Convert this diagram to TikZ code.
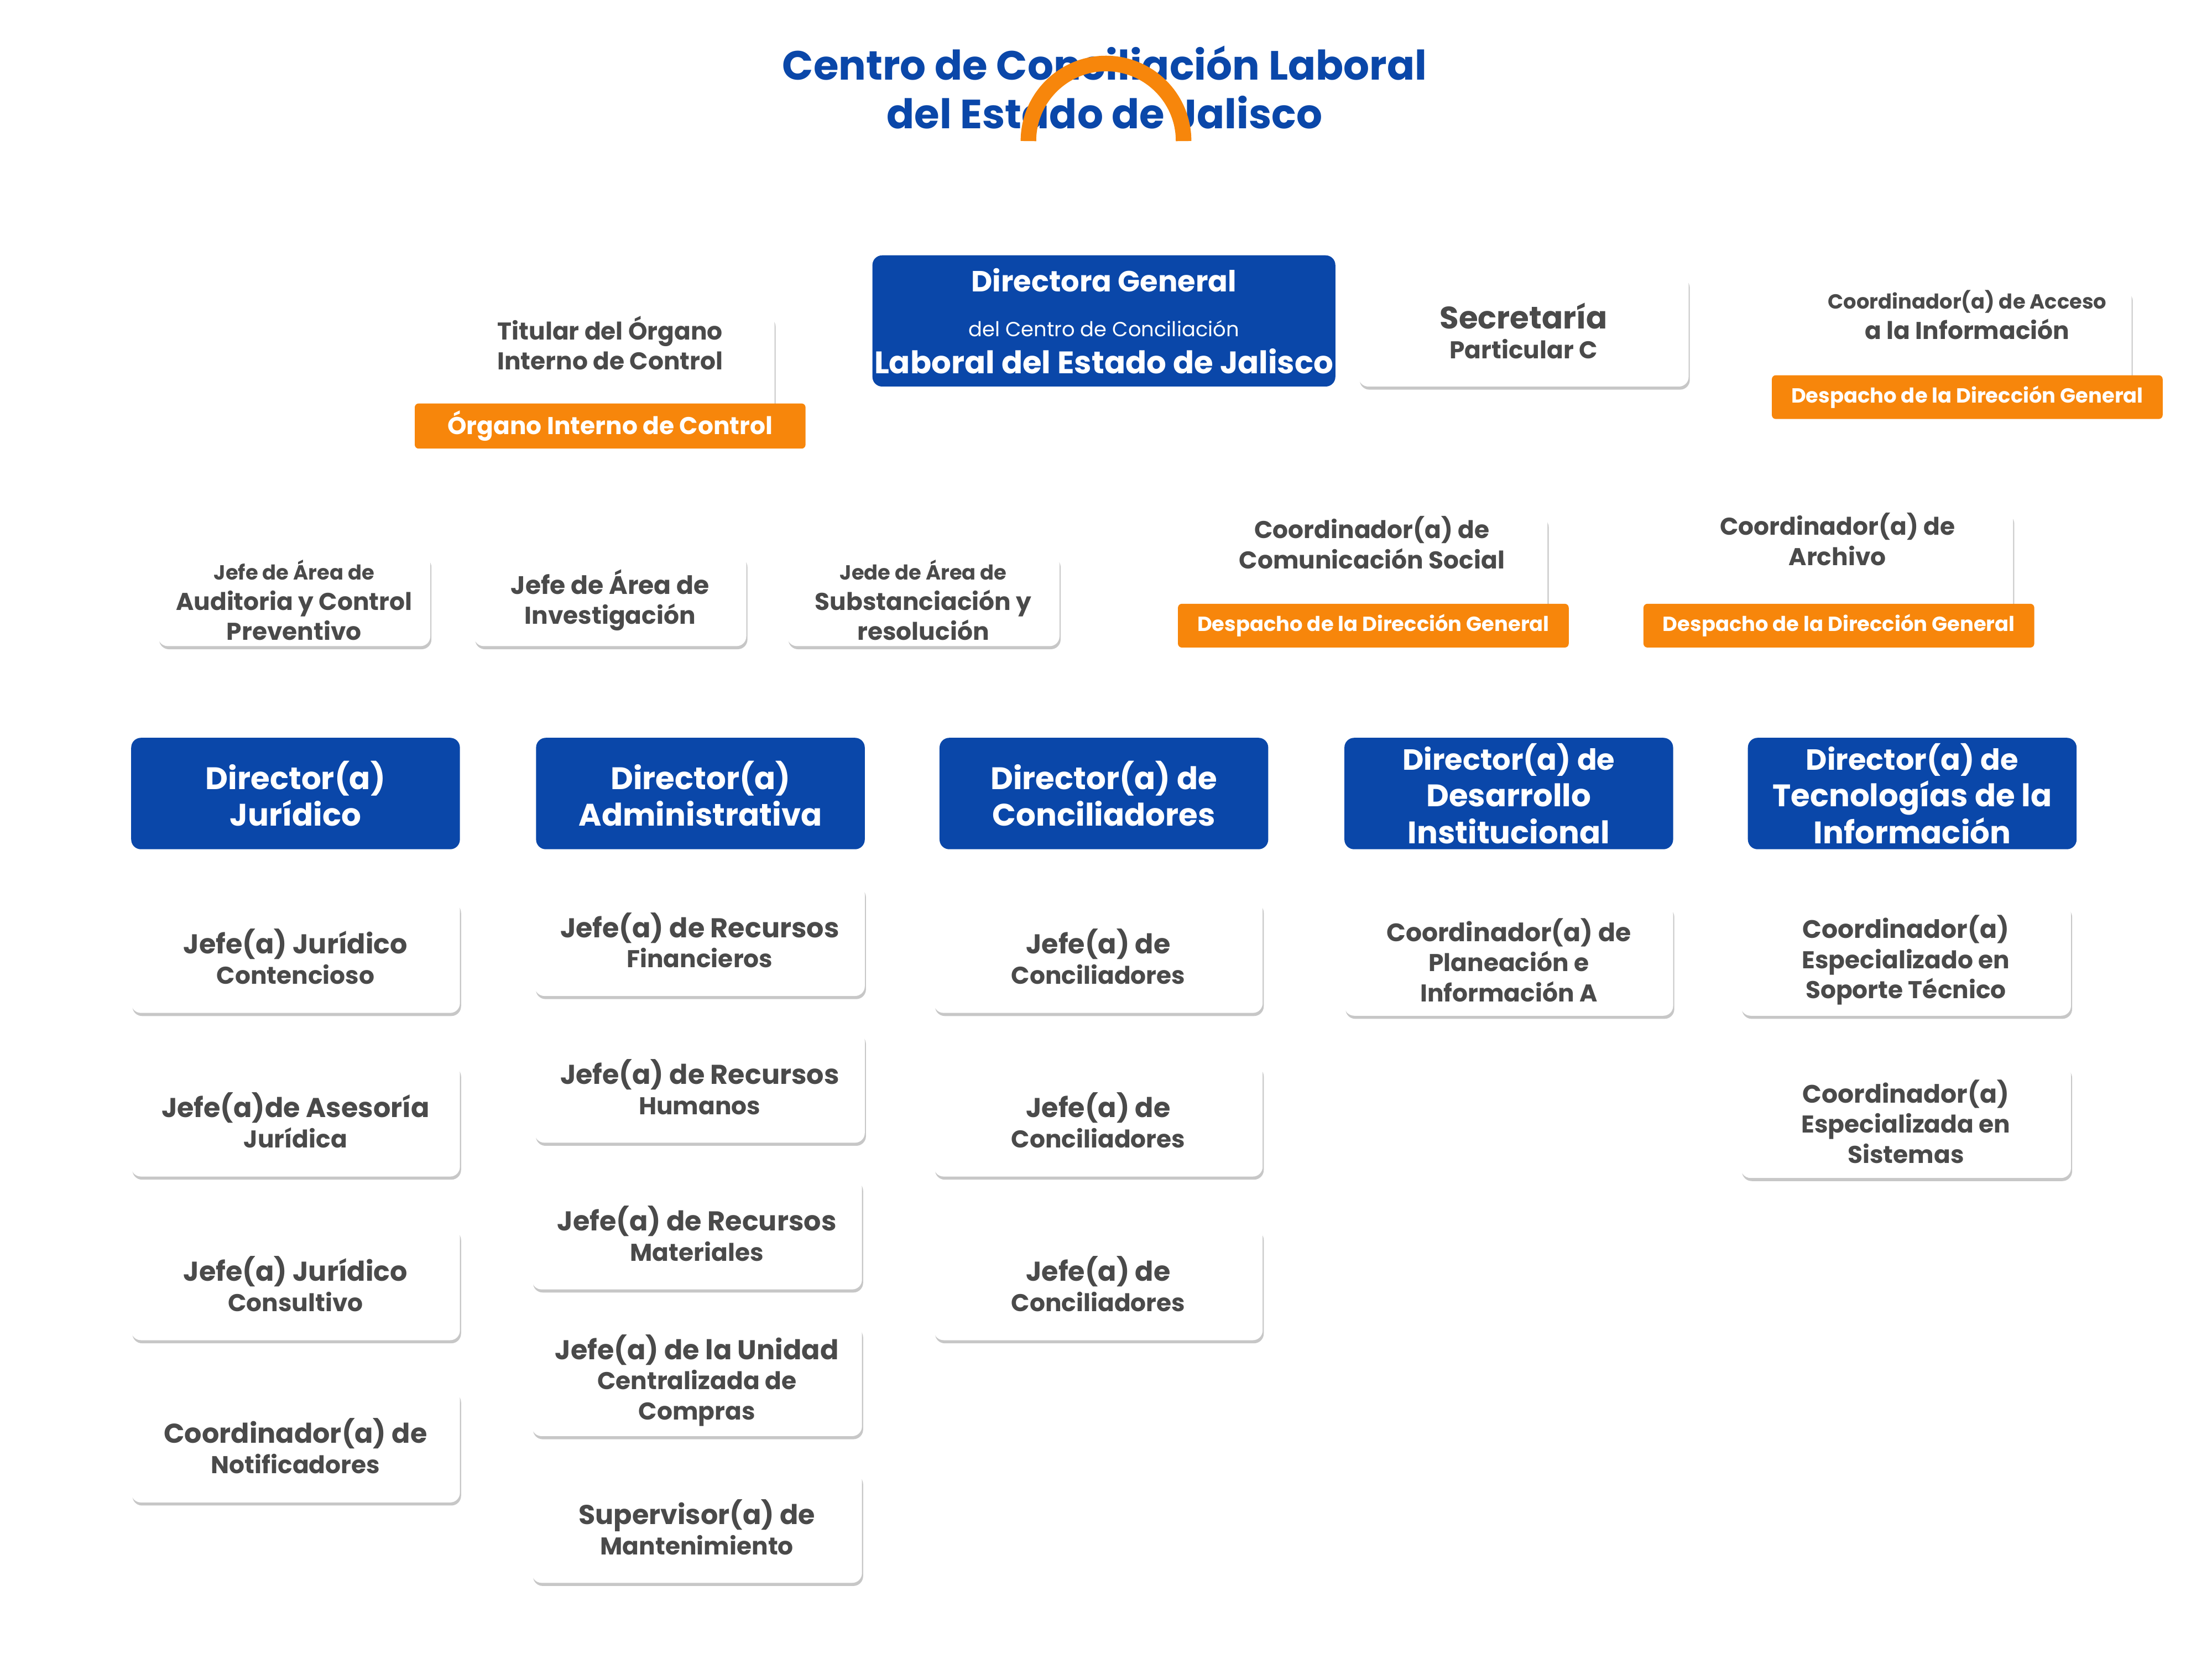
\documentclass[tikz,border=0pt]{standalone}
\usepackage{fontspec}
\setmainfont{Poppins}
\usetikzlibrary{shadows,backgrounds}
\definecolor{cb}{HTML}{0A47A9}
\definecolor{co}{HTML}{F7860B}
\definecolor{ct}{HTML}{4A4A4A}
\definecolor{cl}{HTML}{555B66}
\tikzset{
 box/.style={fill=white,rounded corners=5pt,inner sep=1pt,align=center,text=ct,
   drop shadow={shadow xshift=0.6pt,shadow yshift=-1.6pt,opacity=0.22,fill=black},
   font=\fontsize{12.5}{15.5}\selectfont\bfseries},
 dir/.style={fill=cb,rounded corners=5pt,inner sep=1pt,align=center,text=white,
   font=\fontsize{16}{19}\selectfont\bfseries},
 tag/.style={fill=co,rounded corners=2pt,inner sep=1pt,align=center,text=white,
   font=\fontsize{10.5}{12}\selectfont\bfseries},
 ln/.style={draw=cl,line width=1.2pt,rounded corners=8pt}
}
\newcommand\bx[7][box]{\node[#1,minimum width={(#5-#3)*0.0255cm},minimum height={(#6-#4)*0.0255cm}] (#2) at ({(#3+#5)/2},{(#4+#6)/2}) {#7};}
\begin{document}
\begin{tikzpicture}[x=0.0255cm,y=-0.0255cm]
\useasboundingbox[fill=white] (0,0) rectangle (1568,1176);
\node[text=cb,align=center,font=\fontsize{21}{25}\selectfont\bfseries] (title) at (783,62) {Centro de Conciliación Laboral\\del Estado de Jalisco};
\draw[co,line width=8pt] (729,100) arc[start angle=180,end angle=360,radius=55];
% top
\bx[dir]{dg}{666}{181}{899}{274}{\fontsize{15}{18}\selectfont Directora General\\[4pt]\fontsize{10.5}{14}\selectfont\mdseries del Centro de Conciliación\\Laboral del Estado de Jalisco}
\bx{sp}{963}{195}{1197}{274}{\fontsize{16}{22}\selectfont Secretaría\\Particular C}
\bx{ca}{1278}{208}{1511}{272}{\fontsize{10.5}{15}\selectfont Coordinador(a) de Acceso\\a la Información\\[9pt]}
\bx[tag]{cat}{1256}{266}{1533}{297}{Despacho de la Dirección General}
\bx{oic}{316}{228}{549}{292}{\fontsize{12.5}{15.5}\selectfont Titular del Órgano\\Interno de Control\\[9pt]}
\bx[tag]{oict}{294}{286}{571}{318}{\fontsize{12.5}{14}\selectfont Órgano Interno de Control}
\bx{a1}{112}{393}{305}{458}{\fontsize{10.5}{13}\selectfont Jefe de Área de\\Auditoria y Control\\Preventivo}
\bx{a2}{336}{393}{529}{458}{\fontsize{13}{19}\selectfont Jefe de Área de\\Investigación}
\bx{a3}{558}{393}{751}{458}{\fontsize{10.5}{13}\selectfont Jede de Área de\\Substanciación y\\resolución}
\bx{cs}{848}{371}{1097}{432}{Coordinador(a) de\\Comunicación Social\\[9pt]}
\bx[tag]{cst}{835}{428}{1112}{459}{Despacho de la Dirección General}
\bx{ar}{1178}{366}{1427}{432}{Coordinador(a) de\\Archivo\\[9pt]}
\bx[tag]{art}{1165}{428}{1442}{459}{Despacho de la Dirección General}
% directors
\bx[dir]{d1}{93}{523}{326}{602}{Director(a)\\Jurídico}
\bx[dir]{d2}{380}{523}{613}{602}{Director(a)\\Administrativa}
\bx[dir]{d3}{666}{523}{899}{602}{Director(a) de\\Conciliadores}
\bx[dir]{d4}{953}{523}{1186}{602}{\fontsize{15}{18}\selectfont Director(a) de\\Desarrollo\\Institucional}
\bx[dir]{d5}{1239}{523}{1472}{602}{\fontsize{15}{18}\selectfont Director(a) de\\Tecnologías de la\\Información}
% col 1
\bx{c11}{93}{638}{326}{718}{\fontsize{14}{17}\selectfont Jefe(a) Jurídico\\Contencioso}
\bx{c12}{93}{754}{326}{834}{\fontsize{14}{17}\selectfont Jefe(a)de Asesoría\\Jurídica}
\bx{c13}{93}{870}{326}{950}{\fontsize{14}{17}\selectfont Jefe(a) Jurídico\\Consultivo}
\bx{c14}{93}{985}{326}{1065}{\fontsize{14}{17}\selectfont Coordinador(a) de\\Notificadores}
% col 2
\bx{c21}{379}{627}{613}{706}{\fontsize{14}{17}\selectfont Jefe(a) de Recursos\\Financieros}
\bx{c22}{379}{731}{613}{810}{\fontsize{14}{17}\selectfont Jefe(a) de Recursos\\Humanos}
\bx{c23}{377}{835}{611}{914}{\fontsize{14}{17}\selectfont Jefe(a) de Recursos\\Materiales}
\bx{c24}{377}{939}{611}{1018}{\fontsize{14}{17}\selectfont Jefe(a) de la Unidad\\Centralizada de\\Compras}
\bx{c25}{377}{1043}{611}{1122}{\fontsize{14}{17}\selectfont Supervisor(a) de\\Mantenimiento}
% col 3
\bx{c31}{662}{638}{895}{718}{\fontsize{14}{17}\selectfont Jefe(a) de\\Conciliadores}
\bx{c32}{662}{754}{895}{834}{\fontsize{14}{17}\selectfont Jefe(a) de\\Conciliadores}
\bx{c33}{662}{870}{895}{950}{\fontsize{14}{17}\selectfont Jefe(a) de\\Conciliadores}
% col 4
\bx{c41}{953}{641}{1186}{720}{\fontsize{13}{16}\selectfont Coordinador(a) de\\Planeación e\\Información A}
% col 5
\bx{c51}{1234}{641}{1468}{720}{\fontsize{13}{16}\selectfont Coordinador(a)\\Especializado en\\Soporte Técnico}
\bx{c52}{1234}{755}{1468}{835}{\fontsize{13}{16}\selectfont Coordinador(a)\\Especializada en\\Sistemas}
\begin{scope}[on background layer]
\draw[ln] (dg.east) -- (sp.west |- dg.east);
\draw[ln] (sp.east) -- (ca.west |- sp.east);
\draw[ln] (oict.south) -- ++(0,46) coordinate (ob);
\draw[ln] (a1.north) |- (ob) -| (a3.north);
\draw[ln] (a2.north) -- (ob);
\draw[ln] (sp.south) -- ++(0,56) coordinate (sb);
\draw[ln] (cs.north) |- (sb) -| (ar.north);
\draw[ln] (dg.south) -- (dg.south |- 0,499) coordinate (db);
\draw[ln] (d1.north) |- (db) -| (d5.north);
\draw[ln] (d2.north) -- ++(0,-24);
\draw[ln] (d3.north) -- ++(0,-24);
\draw[ln] (d4.north) -- ++(0,-24);
\draw[ln] (d1.south) -- (c11.north) (c11.south) -- (c12.north) (c12.south) -- (c13.north) (c13.south) -- (c14.north);
\draw[ln] (d2.south -| c21.north) -- (c21.north) (c21.south) -- (c22.north) (c22.south) -- (c23.north -| c22.south) (c23.south) -- (c24.north) (c24.south) -- (c25.north);
\draw[ln] (d3.south -| c31.north) -- (c31.north) (c31.south) -- (c32.north) (c32.south) -- (c33.north);
\draw[ln] (d4.south) -- (c41.north -| d4.south);
\draw[ln] (d5.south -| c51.north) -- (c51.north) (c51.south) -- (c52.north);
\end{scope}
\end{tikzpicture}
\end{document}
